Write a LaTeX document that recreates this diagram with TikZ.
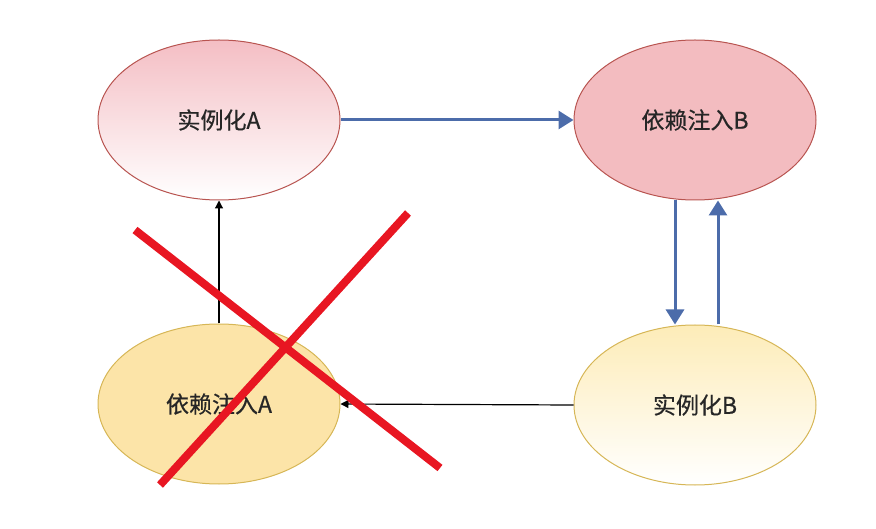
\documentclass[tikz,border=0pt]{standalone}
\usepackage{fontspec}
\setmainfont[FakeBold=0.5]{Noto Sans CJK SC}
\usepackage{xcolor}
\usetikzlibrary{shapes.geometric, arrows.meta}
\definecolor{rosebord}{RGB}{184, 84, 80}
\definecolor{rosehaut}{RGB}{244, 190, 196}
\definecolor{roseplein}{RGB}{243, 188, 192}
\definecolor{jaunebord}{RGB}{214, 182, 86}
\definecolor{jauneplein}{RGB}{252, 228, 168}
\definecolor{jaunehaut}{RGB}{253, 236, 184}
\definecolor{bleufleche}{RGB}{76, 108, 170}
\definecolor{rougecroix}{RGB}{232, 22, 34}

\begin{document}
\begin{tikzpicture}[x=1pt, y=1pt,
    etat/.style={ellipse, minimum width=242pt, minimum height=160pt,
                 inner sep=0pt, line width=1pt, text=black!85,
                 font=\fontsize{23}{26}\selectfont},
    fleche/.style={draw=bleufleche, line width=3pt,
                   -{Triangle[width=18pt, length=15pt]}},
    lien/.style={draw=black, line width=1.2pt,
                 -{Triangle[width=8pt, length=8pt]}},
    croix/.style={draw=rougecroix, line width=8pt}]
  \useasboundingbox (0,0) rectangle (876,528);
  % les quatre etats
  \node[etat, draw=rosebord, top color=rosehaut, bottom color=white]
    (instA) at (219,408) {实例化A};
  \node[etat, draw=rosebord, fill=roseplein]
    (injB) at (695,408) {依赖注入B};
  \node[etat, draw=jaunebord, fill=jauneplein]
    (injA) at (219,124) {依赖注入A};
  \node[etat, draw=jaunebord, top color=jaunehaut, bottom color=white]
    (instB) at (695,123) {实例化B};
  % liens
  \draw[fleche] (instA.east) -- (injB.west);
  \draw[fleche] ([xshift=-20pt]injB.south) -- ([xshift=-20pt]instB.north);
  \draw[fleche] ([xshift=23pt]instB.north) -- ([xshift=23pt]injB.south);
  \draw[lien] (injA.north) -- (instA.south);
  \draw[lien] (instB.west) -- (injA.east);
  % la croix
  \coordinate (c1) at (135,298);
  \coordinate (c2) at (440,60);
  \coordinate (c3) at (408,315);
  \coordinate (c4) at (160,43);
  \draw[croix] (c1) -- (c2);
  \draw[croix] (c3) -- (c4);
\end{tikzpicture}
\end{document}
